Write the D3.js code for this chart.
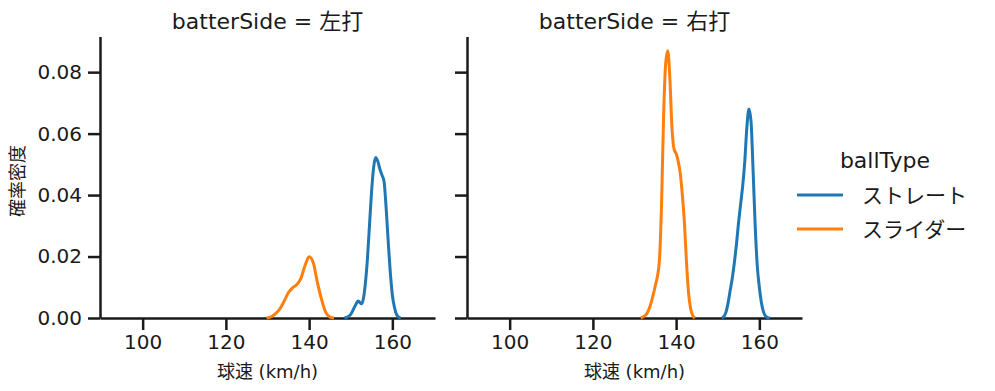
<!DOCTYPE html>
<html lang="ja">
<head>
<meta charset="UTF-8">
<title>球速 KDE</title>
<style>
    body { margin: 0; background: #fff; }
    svg text { font-family: "DejaVu Sans", "Noto Sans CJK JP", sans-serif; fill: #1a1a1a; }
    .axis path, .axis line { stroke: #1a1a1a; stroke-width: 2.5; }
</style>
</head>
<body>
<svg id="chart" width="995" height="391"></svg>
<script src="https://d3js.org/d3.v7.min.js"></script>
<script>
// パネル（batterSide）
var panels = ["左打", "右打"];
var ballTypes = ["ストレート", "スライダー"];
var colors = ["#1f77b4", "#ff7f0e"];
var xTicks = [100, 120, 140, 160];
var yTicks = [0, 0.02, 0.04, 0.06, 0.08];

// 左打 ストレート: [球速, 密度]
var leftStraight = [[148.5,0],[149,0.0002],[150,0.0012],[151,0.0038],[151.8,0.0055],[152.6,0.0046],[153,0.006],[153.5,0.011],[154,0.019],[154.5,0.03],[155,0.041],[155.5,0.049],[156,0.0522],[156.5,0.051],[157,0.0485],[157.5,0.0465],[158,0.0445],[158.5,0.036],[159,0.025],[159.5,0.015],[160,0.0075],[160.5,0.0035],[161,0.0012],[161.5,0.0003],[162,0]];
// 左打 スライダー
var leftSlider = [[129.8,0],[131,0.0005],[132,0.0015],[133,0.003],[134,0.0055],[135,0.0082],[136,0.0098],[137,0.0108],[138,0.0128],[139,0.017],[140,0.0199],[141,0.018],[142,0.0115],[143,0.006],[144,0.0018],[145,0.0003],[146,0]];
// 右打 ストレート
var rightStraight = [[151,0],[151.5,0.0005],[152,0.002],[152.5,0.005],[153,0.009],[153.5,0.013],[154,0.018],[154.5,0.024],[155,0.031],[155.5,0.037],[156,0.043],[156.5,0.051],[157,0.062],[157.5,0.068],[158,0.064],[158.5,0.048],[159,0.03],[159.5,0.017],[160,0.01],[160.5,0.005],[161,0.002],[161.5,0.0006],[162,0.0001],[162.5,0]];
// 右打 スライダー
var rightSlider = [[131.5,0],[132,0.0003],[133,0.0015],[134,0.005],[135,0.0105],[135.5,0.0135],[136,0.019],[136.5,0.037],[137,0.066],[137.5,0.083],[138,0.087],[138.5,0.078],[139,0.062],[139.5,0.055],[140,0.0535],[140.5,0.051],[141,0.047],[141.5,0.04],[142,0.031],[142.5,0.018],[143,0.008],[143.5,0.003],[144,0.0008],[144.5,0]];

var series = [[leftStraight, leftSlider], [rightStraight, rightSlider]];

var svg = d3.select("#chart");
var plotTop = 36.5, plotBottom = 318, panelW = 335;
var lefts = [100, 467];

var yScale = d3.scaleLinear().domain([0, 0.0916]).range([plotBottom, plotTop]);

panels.forEach(function(p, i) {
    var x0 = lefts[i];
    var xScale = d3.scaleLinear().domain([89.75, 170.25]).range([x0, x0 + panelW]);

    // x軸
    var xAxis = svg.append("g")
        .attr("class", "axis")
        .attr("transform", "translate(0," + plotBottom + ")")
        .call(d3.axisBottom(xScale).tickValues(xTicks).tickSize(12).tickPadding(5).tickSizeOuter(0));
    xAxis.selectAll("text").style("font-size", "20px");

    // y軸
    var yAxis = svg.append("g")
        .attr("class", "axis")
        .attr("transform", "translate(" + x0 + ",0)")
        .call(d3.axisLeft(yScale).tickValues(yTicks).tickFormat(d3.format(".2f")).tickSize(12).tickPadding(6).tickSizeOuter(0));
    yAxis.selectAll("text").style("font-size", "20px");
    if (i > 0) yAxis.selectAll("text").remove();

    // 曲線
    var line = d3.line()
        .x(function(d) { return xScale(d[0]); })
        .y(function(d) { return yScale(d[1]); })
        .curve(d3.curveMonotoneX);
    series[i].forEach(function(s, j) {
        svg.append("path")
            .datum(s)
            .attr("d", line)
            .attr("fill", "none")
            .attr("stroke", colors[j])
            .attr("stroke-width", 3);
    });

    // タイトル
    svg.append("text")
        .attr("x", x0 + panelW / 2)
        .attr("y", 29)
        .attr("text-anchor", "middle")
        .style("font-size", "22px")
        .text("batterSide = " + p);

    // x軸ラベル
    svg.append("text")
        .attr("x", x0 + panelW / 2)
        .attr("y", 378)
        .attr("text-anchor", "middle")
        .style("font-size", "18px")
        .text("球速 (km/h)");
});

// y軸ラベル
svg.append("text")
    .attr("transform", "translate(24,181) rotate(-90)")
    .attr("text-anchor", "middle")
    .style("font-size", "18px")
    .text("確率密度");

// 凡例
svg.append("text")
    .attr("x", 885)
    .attr("y", 168)
    .attr("text-anchor", "middle")
    .style("font-size", "22px")
    .text("ballType");
ballTypes.forEach(function(t, j) {
    var y = 195 + j * 34;
    svg.append("line")
        .attr("x1", 797).attr("x2", 843)
        .attr("y1", y).attr("y2", y)
        .attr("stroke", colors[j])
        .attr("stroke-width", 3);
    svg.append("text")
        .attr("x", 862)
        .attr("y", y + 8)
        .style("font-size", "21px")
        .text(t);
});
</script>
</body>
</html>
